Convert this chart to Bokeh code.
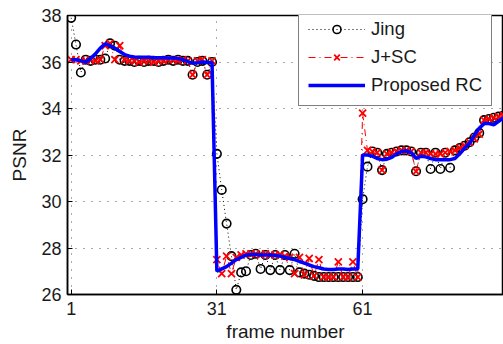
from bokeh.plotting import figure
from bokeh.models import Range1d, FixedTicker, Legend, LegendItem
from bokeh.embed import file_html
from bokeh.resources import INLINE

frames = list(range(1, 91))

jing = [37.9, 36.75, 35.55, 36.1, 36.05, 36.1, 36.1, 36.15, 36.8, 36.7,
        36.1, 36.05, 36.05, 36.0, 36.05, 36.0, 36.05, 36.05, 36.0, 36.05,
        36.1, 36.05, 36.1, 36.05, 36.05, 35.45, 36.0, 36.05, 35.45, 36.0,
        32.05, 30.5, 29.05, 27.65, 26.2, 26.95, 27.0, 27.7, 27.75, 27.1,
        27.7, 27.05, 27.7, 27.05, 27.7, 27.05, 27.75, 26.95, 26.9, 26.85,
        26.8, 26.75, 26.75, 26.75, 26.75, 26.75, 26.75, 26.75, 26.75, 26.75,
        30.1, 31.5, 32.15, 32.1, 31.35, 32.05, 32.1, 32.15, 32.2, 32.2,
        32.15, 31.3, 32.1, 32.1, 31.4, 32.1, 31.4, 32.1, 31.45, 32.2,
        32.3, 32.4, 32.55, 32.75, 32.95, 33.5, 33.55, 33.6, 33.65, 33.7]

jsc = [36.1, 36.1, 36.05, 36.05, 36.1, 36.05, 36.1, 36.7, 36.8, 36.1,
       36.7, 36.1, 36.05, 36.05, 36.0, 36.05, 36.05, 36.0, 36.05, 36.05,
       36.1, 36.1, 36.05, 36.1, 36.05, 35.45, 36.05, 36.1, 35.45, 36.05,
       27.5, 26.9, 27.65, 26.9, 27.6, 27.7, 27.75, 27.75, 27.75, 27.7,
       27.75, 27.7, 27.7, 27.7, 27.65, 27.6, 26.9, 27.6, 26.85, 27.55,
       26.8, 27.5, 26.75, 26.75, 26.75, 27.4, 26.75, 26.75, 27.4, 26.75,
       33.8, 32.2, 32.15, 32.1, 31.35, 32.05, 32.1, 32.15, 32.2, 32.2,
       32.15, 31.3, 32.1, 32.1, 32.05, 32.05, 32.05, 32.1, 32.15, 32.2,
       32.3, 32.4, 32.55, 32.7, 32.9, 33.5, 33.55, 33.6, 33.65, 33.7]

rc = [36.1, 36.1, 36.05, 36.0, 36.15, 36.35, 36.6, 36.78, 36.7, 36.6,
      36.45, 36.32, 36.25, 36.22, 36.2, 36.2, 36.2, 36.18, 36.18, 36.18,
      36.17, 36.17, 36.15, 36.1, 36.02, 35.95, 35.97, 36.0, 35.98, 35.98,
      27.0, 27.1, 27.2, 27.35, 27.5, 27.6, 27.7, 27.72, 27.72, 27.7,
      27.7, 27.7, 27.68, 27.65, 27.6, 27.55, 27.5, 27.42, 27.35, 27.27,
      27.2, 27.15, 27.1, 27.08, 27.08, 27.1, 27.1, 27.08, 27.1, 27.1,
      32.0, 32.0, 31.95, 31.85, 31.8, 31.82, 31.9, 32.05, 32.15, 32.18,
      32.1, 31.85, 31.95, 31.92, 31.85, 31.8, 31.8, 31.8, 31.8, 31.85,
      32.05, 32.3, 32.5, 32.85, 33.15, 33.35, 33.35, 33.3, 33.45, 33.6]

x_ticks = [1, 31, 61]
y_ticks = [26, 28, 30, 32, 34, 36, 38]

FONT = "Liberation Sans"

p = figure(width=503, height=344, output_backend="svg", toolbar_location=None,
           x_range=Range1d(0.25, 90), y_range=Range1d(26, 38),
           min_border_left=67, min_border_right=0, min_border_top=15,
           min_border_bottom=50)

p.background_fill_color = "white"
p.border_fill_color = "white"
p.outline_line_color = "black"
p.outline_line_width = 1.5

p.xaxis.ticker = FixedTicker(ticks=x_ticks)
p.yaxis.ticker = FixedTicker(ticks=y_ticks)
for ax in (p.xaxis[0], p.yaxis[0]):
    ax.axis_line_color = "black"
    ax.axis_line_width = 1.5
    ax.major_tick_in = 5
    ax.major_tick_out = 0
    ax.major_tick_line_color = "black"
    ax.minor_tick_line_color = None
    ax.major_label_text_font = FONT
    ax.major_label_text_font_size = "18px"
    ax.major_label_text_color = "#1a1a1a"
    ax.axis_label_text_font = FONT
    ax.axis_label_text_font_size = "19px"
    ax.axis_label_text_font_style = "normal"
    ax.axis_label_text_color = "#1a1a1a"

p.xaxis[0].axis_label = "frame number"
p.xaxis[0].major_label_standoff = 7
p.xaxis[0].axis_label_standoff = 3
p.yaxis[0].axis_label = "PSNR"
p.yaxis[0].major_label_standoff = 6
p.yaxis[0].axis_label_standoff = 8

p.xgrid.ticker = FixedTicker(ticks=x_ticks)
for g in (p.xgrid[0], p.ygrid[0]):
    g.grid_line_color = "#555555"
    g.grid_line_dash = "1 7"
    g.grid_line_width = 1

rj_line = p.line(frames, jing, line_color="black", line_dash="1 3", line_width=1)
rj_pts = p.scatter(frames, jing, marker="circle", size=8.5, fill_color=None,
                   line_color="black", line_width=1.6)
rs_line = p.line(frames, jsc, line_color="red", line_dash="7 4 1 4", line_width=1)
rs_pts = p.scatter(frames, jsc, marker="x", size=10, line_color="red", line_width=1.8)
rr_line = p.line(frames, rc, line_color="blue", line_width=3.5)

legend = Legend(items=[
    LegendItem(label="Jing", renderers=[rj_line, rj_pts]),
    LegendItem(label="J+SC", renderers=[rs_line, rs_pts]),
    LegendItem(label="Proposed RC", renderers=[rr_line]),
], location=(231, 188))
legend.label_text_font = FONT
legend.label_text_font_size = "18.5px"
legend.label_text_color = "#1a1a1a"
legend.glyph_width = 57
legend.glyph_height = 20
legend.label_height = 20
legend.spacing = 6
legend.padding = 9
legend.label_standoff = 6
legend.margin = 0
legend.border_line_color = "black"
legend.border_line_width = 1.5
legend.background_fill_color = "white"
legend.background_fill_alpha = 1
p.add_layout(legend)

open("out.html", "w").write(file_html(p, INLINE))
